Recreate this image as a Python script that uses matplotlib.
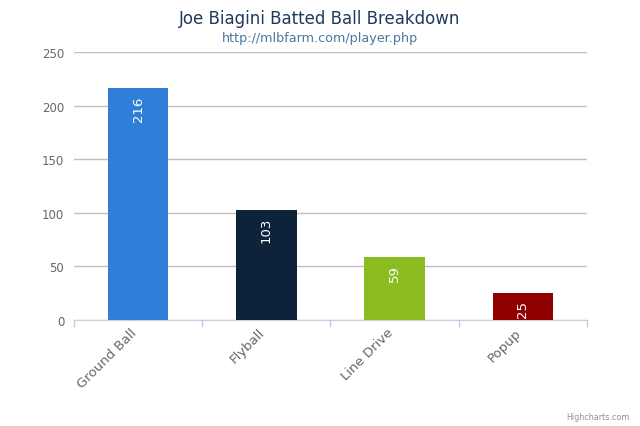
import matplotlib
matplotlib.use('Agg')
import matplotlib.pyplot as plt
import matplotlib.transforms as mtransforms
import numpy as np

categories = ['Ground Ball', 'Flyball', 'Line Drive', 'Popup']
counts = [216, 103, 59, 25]
colors = ['#2F7ED8', '#0D233A', '#8BBC21', '#910000']
yticks = [0, 50, 100, 150, 200, 250]

plt.rcParams['font.family'] = 'DejaVu Sans'

fig = plt.figure(figsize=(6.4, 4.27), dpi=100)
ax = fig.add_axes([0.1156, 0.2482, 0.8016, 0.6277])

x = np.arange(len(categories))
bars = ax.bar(x, counts, width=0.47, color=colors, zorder=3)

for b, v in zip(bars, counts):
    ax.annotate(str(v), (b.get_x() + b.get_width() / 2, v), xytext=(0, -5),
                textcoords='offset points', rotation=90, ha='center', va='top',
                color='white', fontsize=9.5, zorder=4)

ax.set_xlim(-0.5, len(categories) - 0.5)
ax.set_ylim(0, 250)
ax.set_yticks(yticks)
ax.yaxis.grid(True, color='#C0C0C0', linewidth=1, zorder=0)
ax.tick_params(axis='y', length=0, labelsize=8.5, labelcolor='#666666', pad=7)

ax.set_xticks(x)
ax.set_xticklabels(categories, rotation=45, ha='right', rotation_mode='anchor',
                   fontsize=9.5, color='#666666')
ax.tick_params(axis='x', length=0, pad=4)
shift = mtransforms.ScaledTranslation(-8 / 100, 0, fig.dpi_scale_trans)
for lab in ax.get_xticklabels():
    lab.set_transform(lab.get_transform() + shift)
# category boundary ticks
ax.set_xticks(np.arange(-0.5, len(categories)), minor=True)
ax.tick_params(axis='x', which='minor', length=5, color='#C0D0E0', width=1)

for s in ['top', 'right', 'left']:
    ax.spines[s].set_visible(False)
ax.spines['bottom'].set_color('#C0D0E0')

fig.text(0.5, 0.955, 'Joe Biagini Batted Ball Breakdown', ha='center', va='center',
         fontsize=12, color='#1F3A5C')
fig.text(0.5, 0.911, 'http://mlbfarm.com/player.php', ha='center', va='center',
         fontsize=9.2, color='#4D759E')
fig.text(0.984, 0.022, 'Highcharts.com', ha='right', va='center',
         fontsize=5.8, color='#909090')

fig.savefig('out.png', dpi=100)
